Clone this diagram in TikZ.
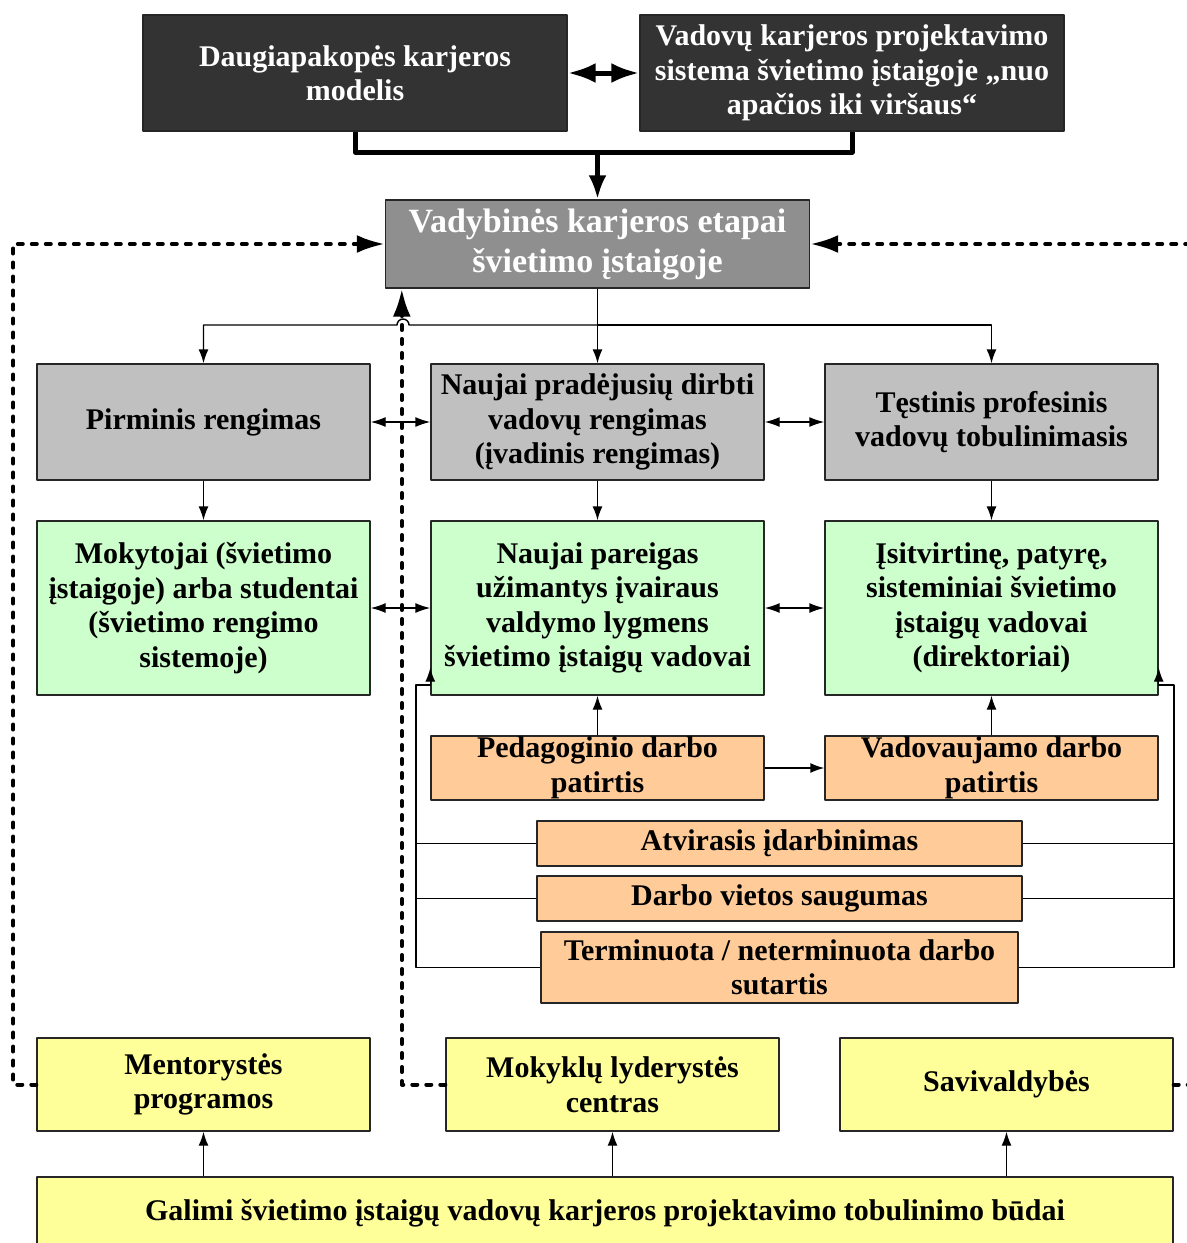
\documentclass[tikz,border=0pt]{standalone}
\usepackage{fontspec}
\setmainfont{Liberation Serif}
\usetikzlibrary{arrows.meta}
\definecolor{tamsi}{HTML}{333333}
\definecolor{pilka}{HTML}{8F8F8F}
\definecolor{sviesi}{HTML}{C0C0C0}
\definecolor{zalia}{HTML}{CCFFCC}
\definecolor{oranz}{HTML}{FFCC99}
\definecolor{geltona}{HTML}{FFFF99}
\tikzset{
  box/.style={draw=black!85,line width=0.7pt,inner sep=0pt,align=center,
    font=\fontsize{15}{17.25}\selectfont\bfseries},
  wh/.style 2 args={minimum width=#1*0.5pt,minimum height=#2*0.5pt},
  conn/.style={line width=0.7pt,-{Latex[length=7pt,width=5pt]}},
  dblconn/.style={line width=0.7pt,{Latex[length=7.5pt,width=5pt]}-{Latex[length=7.5pt,width=5pt]}},
  heavy/.style={line width=2.5pt},
  dotline/.style={line width=2pt,dash pattern=on 2.5pt off 4.5pt,line cap=round,
    -{Latex[length=14pt,width=9pt]}}
}

\begin{document}
\begin{tikzpicture}[x=0.5pt,y=-0.5pt,line join=round,>=latex]
\useasboundingbox (0,0) rectangle (1187,1243);
% virsus
\node[box,fill=tamsi,text=white,wh={424}{116}] (modelis) at (355,73) {Daugiapakopės karjeros\\modelis};
\node[box,fill=tamsi,text=white,wh={424}{116}] (sistema) at (852,73) {Vadovų karjeros projektavimo\\sistema švietimo įstaigoje „nuo\\apačios iki viršaus“};
\node[box,fill=pilka,text=white,wh={424}{88},font=\fontsize{17}{20}\selectfont\bfseries] (etapai) at (597.5,244) {Vadybinės karjeros etapai\\švietimo įstaigoje};
% etapai
\node[box,fill=sviesi,wh={333}{116}] (pirminis) at (203.5,422) {Pirminis rengimas};
\node[box,fill=sviesi,wh={333}{116}] (ivadinis) at (597.5,422) {Naujai pradėjusių dirbti\\vadovų rengimas\\(įvadinis rengimas)};
\node[box,fill=sviesi,wh={333}{116}] (testinis) at (991.5,422) {Tęstinis profesinis\\vadovų tobulinimasis};
\node[box,fill=zalia,wh={333}{174}] (mokytojai) at (203.5,608) {Mokytojai (švietimo\\įstaigoje) arba studentai\\(švietimo rengimo\\sistemoje)};
\node[box,fill=zalia,wh={333}{174}] (vadovai) at (597.5,608) {Naujai pareigas\\užimantys įvairaus\\valdymo lygmens\\švietimo įstaigų vadovai};
\node[box,fill=zalia,wh={333}{174}] (direktoriai) at (991.5,608) {Įsitvirtinę, patyrę,\\sisteminiai švietimo\\įstaigų vadovai\\(direktoriai)};
% patirtis
\node[box,fill=oranz,wh={333}{64}] (pedagog) at (597.5,768) {Pedagoginio darbo\\patirtis};
\node[box,fill=oranz,wh={333}{64}] (vadovauj) at (991.5,768) {Vadovaujamo darbo\\patirtis};
\node[box,fill=oranz,wh={485}{45}] (atvir) at (779.5,843.5) {Atvirasis įdarbinimas};
\node[box,fill=oranz,wh={485}{45}] (saug) at (779.5,898.5) {Darbo vietos saugumas};
\node[box,fill=oranz,wh={477}{71}] (sutart) at (779.5,967.5) {Terminuota / neterminuota darbo\\sutartis};
% budai
\node[box,fill=geltona,wh={333}{93}] (mentor) at (203.5,1084.5) {Mentorystės\\programos};
\node[box,fill=geltona,wh={333}{93}] (centras) at (612.5,1084.5) {Mokyklų lyderystės\\centras};
\node[box,fill=geltona,wh={333}{93}] (saviv) at (1006.5,1084.5) {Savivaldybės};
\node[box,fill=geltona,wh={1136}{72}] (galimi) at (605,1213) {Galimi švietimo įstaigų vadovų karjeros projektavimo tobulinimo būdai};

\coordinate (join) at (597.5,152);
\coordinate (split) at (597.5,325);
\coordinate (lb) at (416,685);
\coordinate (rb) at (1174,685);

\draw[heavy,{Latex[length=14pt,width=10pt]}-{Latex[length=14pt,width=10pt]}] (modelis) -- (sistema);
\draw[heavy] (modelis.south) |- (join) -| (sistema.south);
\draw[heavy,-{Latex[length=12pt,width=9pt]}] (join) -- (etapai.north);

\draw[line width=0.7pt] (etapai.south) -- (split);
\draw[conn] (split) -- (ivadinis.north);
\draw[conn] (split) -| (testinis.north);
\draw[conn] (split) -- (409,325) arc[start angle=0,end angle=180,radius=3pt] -| (pirminis.north);

\draw[dblconn] (pirminis) -- (ivadinis);
\draw[dblconn] (ivadinis) -- (testinis);
\draw[dblconn] (mokytojai) -- (vadovai);
\draw[dblconn] (vadovai) -- (direktoriai);
\draw[conn] (pirminis) -- (mokytojai);
\draw[conn] (ivadinis) -- (vadovai);
\draw[conn] (testinis) -- (direktoriai);

\draw[conn] (pedagog) -- (vadovai);
\draw[conn] (pedagog) -- (vadovauj);
\draw[conn] (vadovauj) -- (direktoriai);

\draw[conn] (sutart.west) -| (lb) -| ([yshift=14pt]vadovai.south west);
\draw[line width=0.7pt] (atvir.west) -- (atvir.west -| lb);
\draw[line width=0.7pt] (saug.west) -- (saug.west -| lb);
\draw[conn] (sutart.east) -| (rb) -| ([yshift=14pt]direktoriai.south east);
\draw[line width=0.7pt] (atvir.east) -- (atvir.east -| rb);
\draw[line width=0.7pt] (saug.east) -- (saug.east -| rb);

\draw[conn] (galimi.north -| mentor) -- (mentor);
\draw[conn] (galimi.north -| centras) -- (centras);
\draw[conn] (galimi.north -| saviv) -- (saviv);

\draw[dotline] (mentor.west) -- ++(-23,0) |- (etapai.west);
\draw[dotline] (centras.west) -| ([xshift=8.5pt]etapai.south west);
\draw[dotline] (saviv.east) -- ++(22,0) |- (etapai.east);
\end{tikzpicture}
\end{document}
